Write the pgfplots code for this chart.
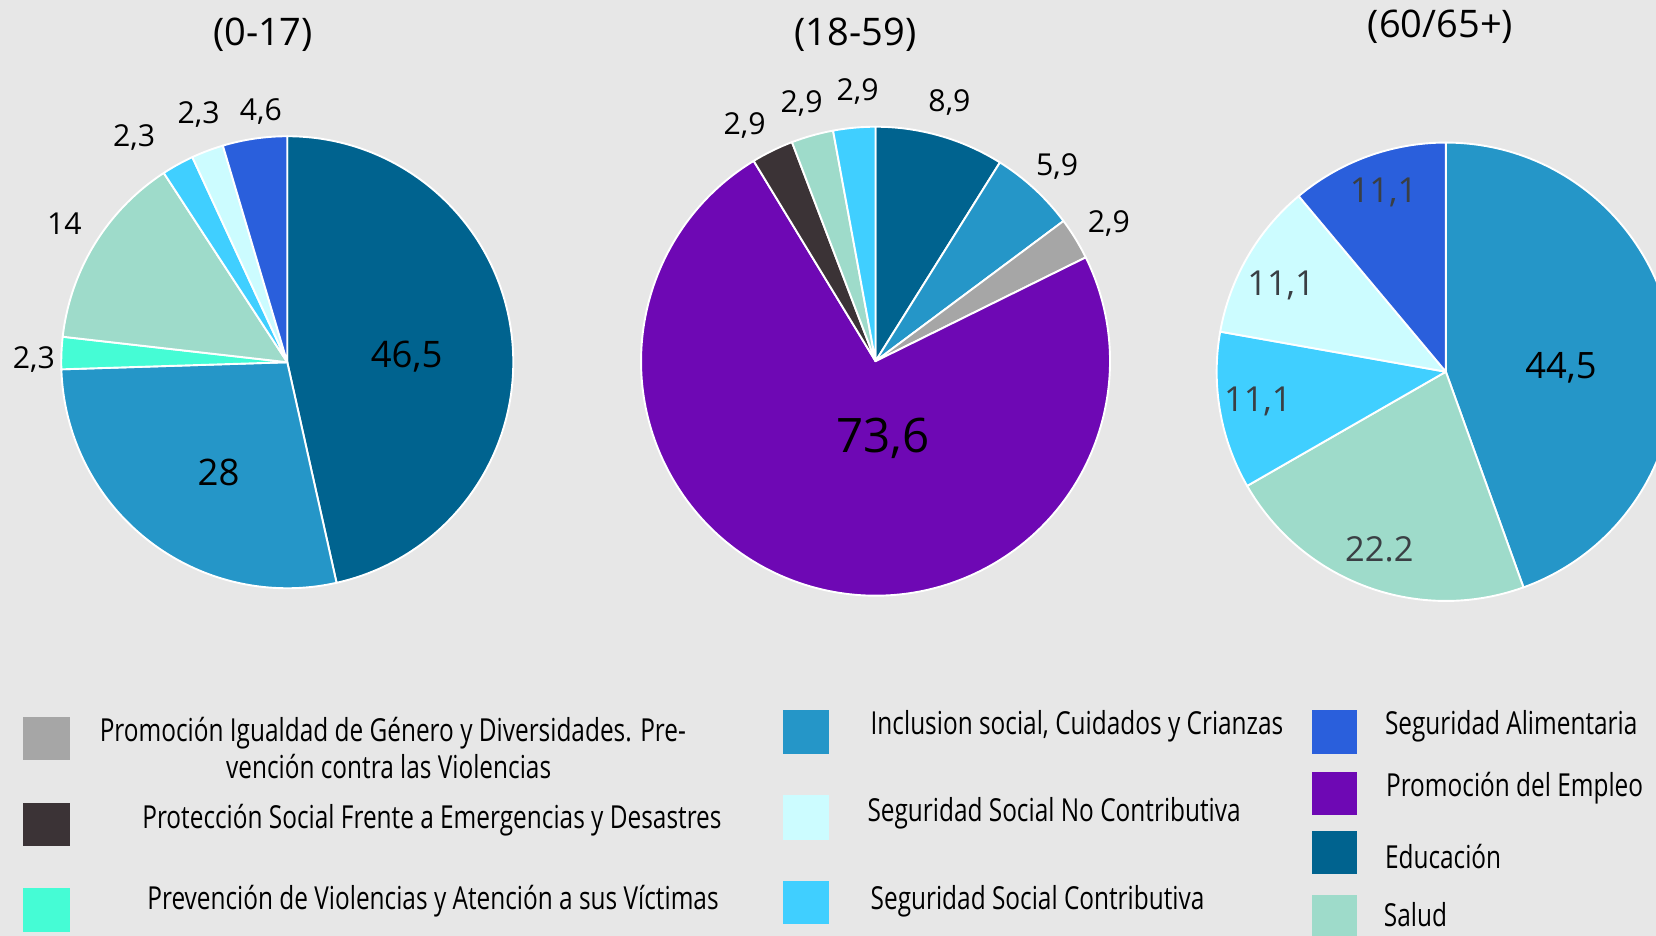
\documentclass[border=0pt]{standalone}
\usepackage{pgfplots}
\pgfplotsset{compat=1.18}
\usepackage{pgfplotstable}
\usepackage{fontspec}
\setmainfont{Open Sans}
\newfontfamily\legfont[FakeStretch=0.77]{Open Sans}

\definecolor{bgc}{HTML}{E7E7E7}
\definecolor{cGray}{HTML}{A6A6A6}
\definecolor{cDark}{HTML}{3B3336}
\definecolor{cPrev}{HTML}{45FCD5}
\definecolor{cInc}{HTML}{2596C8}
\definecolor{cSSNC}{HTML}{CCFCFF}
\definecolor{cSSC}{HTML}{40CFFF}
\definecolor{cAlim}{HTML}{2A5FDC}
\definecolor{cEmp}{HTML}{6E08B4}
\definecolor{cEdu}{HTML}{00638F}
\definecolor{cSalud}{HTML}{9EDBCA}
\definecolor{lbl}{HTML}{3A3F44}

% (0-17), clockwise from the top
\pgfplotstableread{
value color
46.5 cEdu
28   cInc
2.3  cPrev
14   cSalud
2.3  cSSC
2.3  cSSNC
4.6  cAlim
}\pieA
% (18-59)
\pgfplotstableread{
value color
8.9  cEdu
5.9  cInc
2.9  cGray
73.6 cEmp
2.9  cDark
2.9  cSalud
2.9  cSSC
}\pieB
% (60/65+)
\pgfplotstableread{
value color
44.5 cInc
22.2 cSalud
11.1 cSSC
11.1 cSSNC
11.1 cAlim
}\pieC

\newcommand\drawpie[4]{%
  \pgfplotstablegetrowsof{#1}\pgfmathtruncatemacro\nrows{\pgfplotsretval-1}%
  \def\cum{0}%
  \pgfmathsetmacro\R{#4*0.5}%
  \pgfplotsforeachungrouped \i in {0,...,\nrows}{%
    \pgfplotstablegetelem{\i}{value}\of{#1}\let\v\pgfplotsretval
    \pgfplotstablegetelem{\i}{color}\of{#1}\let\c\pgfplotsretval
    \pgfmathsetmacro\aone{90-3.6*\cum}%
    \pgfmathsetmacro\cum{\cum+\v}%
    \pgfmathsetmacro\atwo{90-3.6*\cum}%
    \edef\cmd{\noexpand\fill[fill=\c, draw=white, line width=0.9pt, line join=round] (axis cs:#2,#3) -- ++(\aone:\R pt) arc[start angle=\aone, end angle=\atwo, radius=\R pt] -- cycle;}%
    \cmd
  }%
}

\begin{document}
\begin{tikzpicture}
\begin{axis}[
  scale only axis, width=784pt, height=443pt,
  xmin=0, xmax=1568, ymin=0, ymax=886, y dir=reverse,
  hide axis, clip=true,
]
\fill[bgc] (axis cs:0,0) rectangle (axis cs:1568,886);
\coordinate (bbA) at (axis cs:0,886);
\coordinate (bbB) at (axis cs:1568,0);

\drawpie{\pieA}{272}{343}{214}
\drawpie{\pieB}{829}{342}{222}
\drawpie{\pieC}{1369}{352}{217}

% titles
\node[font=\fontsize{18}{21}\selectfont] at (axis cs:249,33) {(0-17)};
\node[font=\fontsize{18}{21}\selectfont] at (axis cs:810,33) {(18-59)};
\node[font=\fontsize{18}{21}\selectfont] at (axis cs:1364,25) {(60/65+)};

% outside labels
\begin{scope}[every node/.style={font=\fontsize{14.3}{17}\selectfont}]
\node at (axis cs:32,340) {2,3};
\node at (axis cs:61,212) {14};
\node at (axis cs:127,130) {2,3};
\node at (axis cs:188,108) {2,3};
\node at (axis cs:247,106) {4,6};
\node at (axis cs:705,119) {2,9};
\node at (axis cs:759,98) {2,9};
\node at (axis cs:812,87) {2,9};
\node at (axis cs:899,97) {8,9};
\node at (axis cs:1001,158) {5,9};
\node at (axis cs:1050,212) {2,9};
\end{scope}
\node[font=\fontsize{17.3}{20}\selectfont] at (axis cs:385,338) {46,5};
\node[font=\fontsize{17.3}{20}\selectfont] at (axis cs:207,447) {28};
\node[font=\fontsize{22.5}{26}\selectfont] at (axis cs:836,415) {73,6};
\begin{scope}[every node/.style={font=\fontsize{16.3}{19}\selectfont, text=lbl}]
\node at (axis cs:1310,182) {11,1};
\node at (axis cs:1213,270) {11,1};
\node at (axis cs:1191,380) {11,1};
\node at (axis cs:1306,520) {22.2};
\end{scope}
\node[font=\fontsize{17.2}{20}\selectfont] at (axis cs:1478,348) {44,5};

% legend
\fill[cGray]  (axis cs:22,679) rectangle (axis cs:66,720);
\fill[cDark]  (axis cs:22,760) rectangle (axis cs:66,801);
\fill[cPrev]  (axis cs:22,841) rectangle (axis cs:66,882);
\fill[cInc]   (axis cs:741,672) rectangle (axis cs:785,714);
\fill[cSSNC]  (axis cs:741,753) rectangle (axis cs:785,795);
\fill[cSSC]   (axis cs:741,834) rectangle (axis cs:785,875);
\fill[cAlim]  (axis cs:1242,672) rectangle (axis cs:1285,714);
\fill[cEmp]   (axis cs:1242,731) rectangle (axis cs:1285,772);
\fill[cEdu]   (axis cs:1242,787) rectangle (axis cs:1285,828);
\fill[cSalud] (axis cs:1242,847) rectangle (axis cs:1285,890);
\begin{scope}[every node/.style={font=\legfont\fontsize{15}{18}\selectfont, inner sep=0pt}]
\node at (axis cs:372,694) {Promoción Igualdad de Género y Diversidades. Pre-};
\node at (axis cs:368,726) {vención contra las Violencias};
\node at (axis cs:409,777) {Protección Social Frente a Emergencias y Desastres};
\node at (axis cs:410,853) {Prevención de Violencias y Atención a sus Víctimas};
\node[anchor=west] at (axis cs:824,688) {Inclusion social, Cuidados y Crianzas};
\node[anchor=west] at (axis cs:821,770) {Seguridad Social No Contributiva};
\node[anchor=west] at (axis cs:824,853) {Seguridad Social Contributiva};
\node[anchor=west] at (axis cs:1311,688) {Seguridad Alimentaria};
\node[anchor=west] at (axis cs:1312,746) {Promoción del Empleo};
\node[anchor=west] at (axis cs:1311,811) {Educación};
\node[anchor=west] at (axis cs:1310,866) {Salud};
\end{scope}
\end{axis}
\pgfresetboundingbox
\path[use as bounding box] (bbA) rectangle (bbB);
\end{tikzpicture}
\end{document}
